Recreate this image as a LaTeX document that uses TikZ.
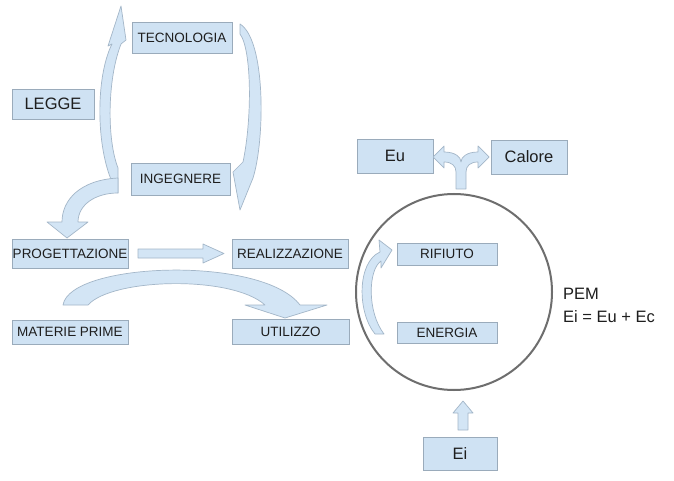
\documentclass[tikz,border=0pt]{standalone}
\usepackage{fontspec}
\setmainfont{Liberation Sans}
\definecolor{boxfill}{HTML}{CFE2F3}
\definecolor{boxline}{HTML}{9AABBB}
\definecolor{arrfill}{HTML}{D3E5F5}
\definecolor{arrline}{HTML}{A3B6C8}
\definecolor{txt}{HTML}{1E1E1E}
\definecolor{ring}{HTML}{6E6E6E}
\begin{document}
\begin{tikzpicture}[x=1pt,y=-1pt,
  box/.style={draw=boxline,fill=boxfill,line width=0.8pt,text=txt,inner sep=0pt,
     font=\fontsize{13.5}{15}\selectfont},
  bigbox/.style={box,font=\fontsize{16.5}{18}\selectfont},
  blockarrow/.style={draw=arrline,fill=arrfill,line width=0.7pt,line join=round}]
\useasboundingbox (0,0) rectangle (674,481);
\fill[white] (0,0) rectangle (674,481);

% boxes
\node[box,minimum width=100pt,minimum height=31pt] (tec) at (182,37.5) {TECNOLOGIA};
\node[bigbox,minimum width=82pt,minimum height=30pt] (legge) at (53,104) {LEGGE};
\node[box,minimum width=99pt,minimum height=32pt] (ing) at (180.5,179) {INGEGNERE};
\node[box,minimum width=116pt,minimum height=29pt] (prog) at (70,253.5) {PROGETTAZIONE};
\node[box,minimum width=116pt,minimum height=29pt] (real) at (290,253.5) {REALIZZAZIONE};
\node[box,minimum width=116pt,minimum height=24pt] (mat) at (70,332) {MATERIE PRIME};
\node[box,minimum width=117pt,minimum height=25pt] (util) at (290.5,331.5) {UTILIZZO};
\node[bigbox,minimum width=76pt,minimum height=34pt] (eu) at (395,156) {Eu};
\node[bigbox,minimum width=76pt,minimum height=34pt] (cal) at (529,157) {Calore};
\node[box,minimum width=100pt,minimum height=22pt] (rif) at (447,254) {RIFIUTO};
\node[box,minimum width=100pt,minimum height=21pt] (ene) at (447,332.5) {ENERGIA};
\node[bigbox,minimum width=74pt,minimum height=33pt] (ei) at (460,453.5) {Ei};

% circle
\node[draw=ring,line width=2pt,circle,minimum size=196pt] (pem) at (454,292) {};
\node[anchor=west,text=txt,font=\fontsize{16.5}{18}\selectfont,align=left,inner sep=0pt] (pemtxt) at (563,305) {PEM\\[5pt]Ei = Eu + Ec};

% left crescent arrow (INGEGNERE -> TECNOLOGIA)
\draw[blockarrow] (118,193) .. controls (96,160) and (94,80) .. (112,44)
   -- (108,46) -- (121,6) -- (126,40) -- (121,44)
   .. controls (107,80) and (107,140) .. (118,168) -- cycle;

% right crescent arrow (TECNOLOGIA -> INGEGNERE)
\draw[blockarrow] (240,24) .. controls (266,40) and (265,140) .. (253,178)
   -- (240,210) -- (233,172) -- (243,162)
   .. controls (252,120) and (252,50) .. (240,34) -- cycle;

% INGEGNERE -> PROGETTAZIONE
\draw[blockarrow] (118,178) .. controls (80,180) and (62,200) .. (62,222)
   -- (47,222) -- (67,238) -- (88,222) -- (78,222)
   .. controls (78,205) and (95,193) .. (118,193) -- cycle;

% PROGETTAZIONE -> REALIZZAZIONE
\draw[blockarrow] (138,249) -- (203,249) -- (203,244) -- (224,253.5) -- (203,263) -- (203,258) -- (138,258) -- cycle;

% MATERIE PRIME -> UTILIZZO big arc
\draw[blockarrow] (63,305) .. controls (70,262) and (262,255) .. (300,305)
   -- (327,305) -- (285,318) -- (245,305) -- (265,305)
   .. controls (232,275) and (112,278) .. (88,305) -- cycle;

% ENERGIA -> RIFIUTO inside circle
\draw[blockarrow] (375,334) .. controls (357,312) and (357,262) .. (380,252)
   -- (379,240) -- (392,250) -- (381,268) -- (381,261)
   .. controls (368,270) and (367,312) .. (384,334) -- cycle;

% Ei -> circle
\draw[blockarrow] (458,430) -- (458,413) -- (453,413) -- (463,401) -- (473,413) -- (468,413) -- (468,430) -- cycle;

% circle -> Eu / Calore (Y arrow)
\draw[blockarrow] (456,189) -- (456,172) .. controls (456,166) and (452,162) .. (444,162)
   -- (444,168) -- (433,157) -- (444,146) -- (444,152)
   .. controls (455,152) and (461,157) .. (461,162)
   .. controls (461,157) and (467,152) .. (478,152)
   -- (478,146) -- (489,157) -- (478,168) -- (478,162)
   .. controls (470,162) and (466,166) .. (466,172) -- (466,189) -- cycle;
\end{tikzpicture}
\end{document}
